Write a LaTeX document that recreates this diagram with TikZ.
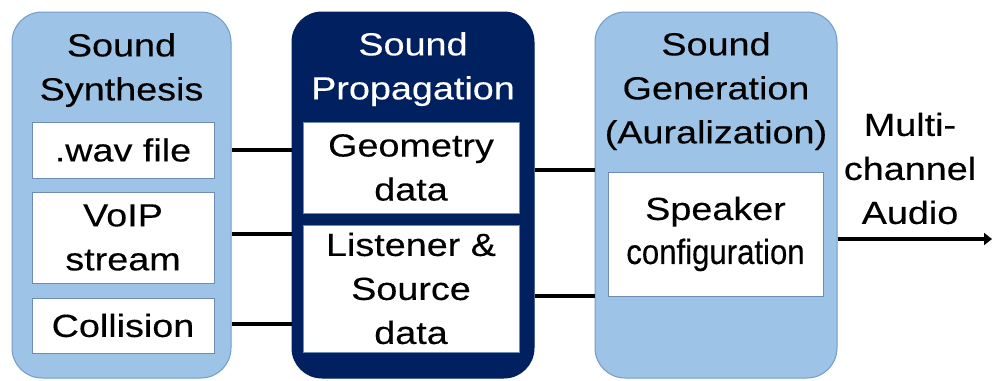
\documentclass[tikz,border=0pt]{standalone}
\usepackage{fontspec}
\setmainfont{Liberation Sans}[FakeStretch=1.18,FakeBold=0.3]
\newfontfamily\condfont{Liberation Sans}[FakeStretch=0.89,FakeBold=0.3]
\usetikzlibrary{arrows.meta}
\definecolor{lightblue}{RGB}{157,195,230}
\definecolor{lightedge}{RGB}{115,155,200}
\definecolor{navy}{RGB}{0,32,96}
\definecolor{inneredge}{RGB}{110,140,180}
\begin{document}
\begin{tikzpicture}[x=1pt,y=-1pt,
  outer/.style={draw=lightedge, fill=lightblue, rounded corners=30pt, line width=1pt, inner sep=0pt},
  darkouter/.style={outer, draw=navy, fill=navy},
  inner/.style={draw=inneredge, fill=white, line width=0.8pt, inner sep=0pt, align=center, font=\fontsize{32}{44}\selectfont},
  title/.style={anchor=north, align=center, inner sep=0pt, font=\fontsize{32}{44}\selectfont},
  link/.style={line width=4pt}]
\useasboundingbox (0,0) rectangle (992,380);
% outer boxes
\node[outer, minimum width=219pt, minimum height=366pt] (syn) at (121.5,195) {};
\node[darkouter, minimum width=242pt, minimum height=366pt] (prop) at (413,195) {};
\node[outer, minimum width=242pt, minimum height=366pt] (gen) at (716,195) {};
% titles
\node[title] (syntitle) at (121.5,33) {Sound\\Synthesis};
\node[title, text=white] (proptitle) at (413,32) {Sound\\Propagation};
\node[title] (gentitle) at (716,32) {Sound\\Generation\\(Auralization)};
% inner boxes
\node[inner, minimum width=182pt, minimum height=56pt] (wav) at (123,150) {.wav file};
\node[inner, minimum width=182pt, minimum height=91pt] (voip) at (123,237.5) {VoIP\\stream};
\node[inner, minimum width=182pt, minimum height=55pt] (col) at (123,325.5) {Collision};
\node[inner, minimum width=216pt, minimum height=91pt] (geo) at (411,167.5) {Geometry\\data};
\node[inner, minimum width=216pt, minimum height=127pt] (lis) at (411,288.5) {Listener \&\\Source\\data};
\node[inner, minimum width=215pt, minimum height=124pt] (spk) at (715.5,234) {Speaker\\{\condfont\fontsize{35}{44}\selectfont configuration}};
% output label
\node[title, anchor=center] (lab) at (910,168.5) {Multi-\\channel\\Audio};
% connectors
\coordinate (lo) at (0,296);
\coordinate (out) at (992,239);
\draw[link] (syn.east |- wav.east) -- (prop.west |- wav.east);
\draw[link] (syn.east |- 0,234) -- (prop.west |- 0,234);
\draw[link] (syn.east |- 0,324) -- (prop.west |- 0,324);
\draw[link] (prop.east |- 0,170) -- (gen.west |- 0,170);
\draw[link] (prop.east |- lo) -- (gen.west |- lo);
\draw[link, -{Triangle[length=8pt,width=12pt]}] (gen.east |- out) -- (out);
\end{tikzpicture}
\end{document}
